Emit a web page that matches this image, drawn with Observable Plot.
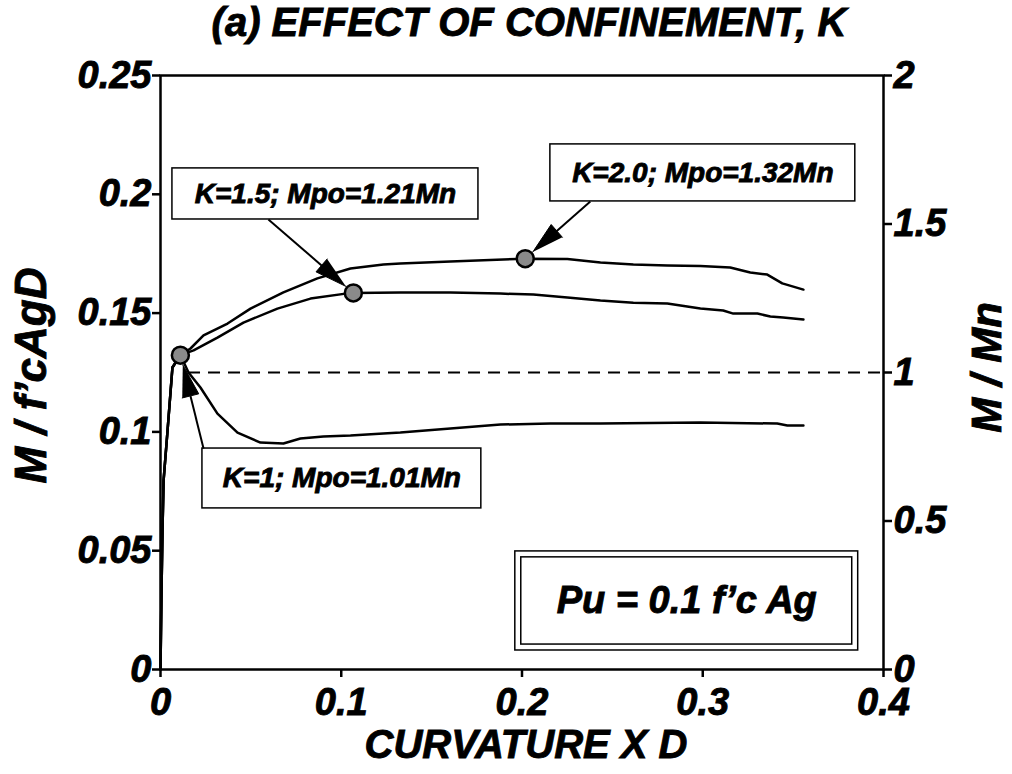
<!DOCTYPE html>
<html>
<head>
<meta charset="utf-8">
<script src="https://cdn.jsdelivr.net/npm/d3@7"></script>
<script src="https://cdn.jsdelivr.net/npm/@observablehq/plot@0.6"></script>
<style>
  body { margin: 0; background: #fff; }
  #title {
    height: 56px; line-height: 70px; text-align: center; padding-left: 46px;
    font: italic bold 40px "Liberation Sans", Arial, sans-serif; color: #000;
    white-space: nowrap; -webkit-text-stroke: 0.9px #000;
  }
  #chart svg text { stroke: #000; stroke-width: 0.9px; paint-order: stroke; }
</style>
</head>
<body>
<div id="title">(a) EFFECT OF CONFINEMENT, K</div>
<div id="chart"></div>
<script>
// Elastic rise shared by all three confinement levels (curvature x D, M / f'cAgD)
const riseCurv = [0, 0.0005, 0.0011, 0.0017, 0.0039, 0.0066, 0.011];
const riseMom  = [0, 0.03, 0.0585, 0.0795, 0.1006, 0.1271, 0.1323];

// Post-peak branches
const curvK1  = [0.0155, 0.0221, 0.0315, 0.0426, 0.0553, 0.068, 0.0774, 0.0901, 0.1051, 0.1233, 0.1327, 0.1604, 0.1881, 0.2157, 0.2434, 0.2987, 0.3412, 0.3468, 0.3557];
const momK1   = [0.125, 0.1187, 0.1077, 0.0997, 0.0955, 0.0951, 0.0972, 0.0981, 0.0985, 0.0993, 0.0997, 0.1014, 0.1031, 0.1035, 0.1035, 0.104, 0.1035, 0.1027, 0.1027];
const curvK15 = [0.0183, 0.0315, 0.0459, 0.0647, 0.083, 0.1034, 0.1067, 0.1327, 0.1604, 0.1881, 0.2063, 0.2251, 0.2434, 0.2616, 0.2804, 0.2987, 0.3113, 0.3169, 0.3302, 0.3374, 0.3445, 0.3557];
const momK15  = [0.1343, 0.1397, 0.146, 0.1519, 0.1561, 0.1583, 0.1585, 0.1587, 0.1587, 0.1582, 0.1578, 0.1566, 0.1553, 0.1544, 0.154, 0.1519, 0.1511, 0.1498, 0.1498, 0.1486, 0.1481, 0.1473];
const curvK2  = [0.0166, 0.0238, 0.0371, 0.0498, 0.068, 0.0868, 0.1051, 0.1233, 0.1327, 0.1604, 0.2018, 0.2251, 0.2434, 0.2616, 0.2804, 0.2987, 0.3152, 0.3263, 0.3357, 0.344, 0.3557];
const momK2   = [0.1351, 0.1406, 0.1456, 0.1519, 0.1587, 0.1646, 0.1688, 0.1705, 0.1709, 0.1717, 0.1729, 0.1728, 0.1713, 0.1705, 0.17, 0.1698, 0.1692, 0.1671, 0.1662, 0.1625, 0.1599];

// Peak moments
const kLabels   = ["1", "1.5", "2.0"];
const peakCurv  = [0.011, 0.1067, 0.2018];
const mpoRatio  = [1.01, 1.21, 1.32];
const mnNominal = 0.131;          // M / f'cAgD at nominal moment Mn

// Axis ticks
const xTicks  = [0, 0.1, 0.2, 0.3, 0.4];
const yTicks  = [0, 0.05, 0.1, 0.15, 0.2, 0.25];
const mnTicks = [0, 0.5, 1, 1.5, 2];
const mnAxisUnit = 0.125;          // right axis: M/Mn = 1 at 0.125 on the left axis

const axisLeftTitle   = "M / f\u2019cAgD";
const axisRightTitle  = "M / Mn";
const axisBottomTitle = "CURVATURE X D";
const loadNote = "Pu = 0.1 f\u2019c Ag";

// Annotation layout, in data units
const labelBoxes = [
  {x1: 0.0232, x2: 0.1775, y1: 0.0678, y2: 0.0930, tailX: 0.0238, tailY: 0.0930},
  {x1: 0.0066, x2: 0.1759, y1: 0.1894, y2: 0.2109, tailX: 0.0597, tailY: 0.1894},
  {x1: 0.2157, x2: 0.3844, y1: 0.1970, y2: 0.2210, tailX: 0.2378, tailY: 0.1970}
];
const noteBox = {x1: 0.1963, x2: 0.3860, y1: 0.0080, y2: 0.0497};

// Build tidy tables
const series = [
  {k: "1",   c: curvK1,  m: momK1},
  {k: "1.5", c: curvK15, m: momK15},
  {k: "2.0", c: curvK2,  m: momK2}
];
const curves = series.flatMap(s =>
  riseCurv.concat(s.c).map((c, i) => ({k: s.k, curv: c, mom: riseMom.concat(s.m)[i]})));

const peaks = kLabels.map((k, i) => ({
  k, curv: peakCurv[i], mom: mpoRatio[i] * mnNominal,
  label: `K=${k}; Mpo=${mpoRatio[i].toFixed(2)}Mn`
}));

const width = 1012, height = 718;
const marginLeft = 160, marginRight = 129, marginTop = 19, marginBottom = 105;
const xDomain = [0, 0.4], yDomain = [0, 0.25];

const xs = Plot.scale({x: {domain: xDomain, range: [marginLeft, width - marginRight]}});
const ys = Plot.scale({y: {domain: yDomain, range: [height - marginBottom, marginTop]}});

// Leader arrows from each label box to its peak marker, with filled heads
const dotR = 8.5, headLen = 32, headHalf = 8.5;
const shafts = [], heads = [];
labelBoxes.forEach((b, i) => {
  const p0 = [xs.apply(b.tailX), ys.apply(b.tailY)];
  const pc = [xs.apply(peaks[i].curv), ys.apply(peaks[i].mom)];
  const dx = pc[0] - p0[0], dy = pc[1] - p0[1], len = Math.hypot(dx, dy);
  const u = [dx / len, dy / len], n = [-u[1], u[0]];
  const tip = [pc[0] - u[0] * (dotR + 1.5), pc[1] - u[1] * (dotR + 1.5)];
  const base = [tip[0] - u[0] * headLen, tip[1] - u[1] * headLen];
  const inv = p => ({x: xs.invert(p[0]), y: ys.invert(p[1])});
  shafts.push({a: inv(p0), b: inv(base)});
  [tip, [base[0] + n[0] * headHalf, base[1] + n[1] * headHalf],
        [base[0] - n[0] * headHalf, base[1] - n[1] * headHalf]]
    .forEach(p => heads.push({id: i, ...inv(p)}));
});

const fmt = d => String(+d.toFixed(3));
const font = '"Liberation Sans", Arial, sans-serif';

const chart = Plot.plot({
  width, height, marginLeft, marginRight, marginTop, marginBottom,
  x: {domain: xDomain},
  y: {domain: yDomain},
  style: {fontFamily: font, fontWeight: "bold", fontStyle: "italic", color: "#000", background: "#fff", overflow: "visible"},
  marks: [
    Plot.axisY(yTicks, {anchor: "left", tickSize: 8, tickPadding: 1, tickFormat: fmt, fontSize: 38, strokeWidth: 2.5, label: null}),
    Plot.axisY(mnTicks.map(t => t * mnAxisUnit), {anchor: "right", tickSize: 8, tickPadding: 2,
      tickFormat: d => fmt(d / mnAxisUnit), fontSize: 38, strokeWidth: 2.5, label: null}),
    Plot.axisX(xTicks, {anchor: "bottom", tickSize: 8, tickPadding: 11, tickFormat: fmt, fontSize: 38, strokeWidth: 2.5, label: null}),
    Plot.ruleY([1 * mnAxisUnit], {x1: 0.0155, x2: 0.4, stroke: "#000", strokeWidth: 2, strokeDasharray: "12,8"}),
    Plot.line(curves, {x: "curv", y: "mom", z: "k", stroke: "#000", strokeWidth: 2.5}),
    Plot.rect(labelBoxes, {x1: "x1", x2: "x2", y1: "y1", y2: "y2", fill: "#fff", stroke: "#000", strokeWidth: 1.5}),
    Plot.text(peaks, {x: (d, i) => (labelBoxes[i].x1 + labelBoxes[i].x2) / 2,
      y: (d, i) => (labelBoxes[i].y1 + labelBoxes[i].y2) / 2, text: "label", fontSize: 28, fill: "#000"}),
    Plot.link(shafts, {x1: d => d.a.x, y1: d => d.a.y, x2: d => d.b.x, y2: d => d.b.y, stroke: "#000", strokeWidth: 2}),
    Plot.line(heads, {x: "x", y: "y", z: "id", fill: "#000", stroke: "#000", strokeWidth: 1}),
    Plot.dot(peaks, {x: "curv", y: "mom", r: dotR, fill: "#8a8a8a", stroke: "#000", strokeWidth: 2.5}),
    Plot.rect([noteBox], {x1: "x1", x2: "x2", y1: "y1", y2: "y2", fill: "#fff", stroke: "#000", strokeWidth: 1.5}),
    Plot.rect([noteBox], {x1: d => d.x1 + 0.0033, x2: d => d.x2 - 0.0033, y1: d => d.y1 + 0.0025, y2: d => d.y2 - 0.0025,
      fill: "none", stroke: "#000", strokeWidth: 1.5}),
    Plot.text([loadNote], {x: (noteBox.x1 + noteBox.x2) / 2, y: (noteBox.y1 + noteBox.y2) / 2, text: d => d, fontSize: 38, fill: "#000"}),
    Plot.text([axisLeftTitle], {frameAnchor: "left", textAnchor: "middle", lineAnchor: "middle", dx: -129, dy: 3, rotate: -90,
      text: d => d, fontSize: 44, fill: "#000"}),
    Plot.text([axisRightTitle], {frameAnchor: "right", textAnchor: "middle", lineAnchor: "middle", dx: 104, dy: -5, rotate: -90,
      text: d => d, fontSize: 42, fill: "#000"}),
    Plot.text([axisBottomTitle], {frameAnchor: "bottom", textAnchor: "middle", lineAnchor: "middle", dx: 4, dy: 76,
      text: d => d, fontSize: 40, fill: "#000", style: "word-spacing:8px"}),
    Plot.frame({stroke: "#000", strokeWidth: 2.5})
  ]
});
document.getElementById("chart").append(chart);
</script>
</body>
</html>
